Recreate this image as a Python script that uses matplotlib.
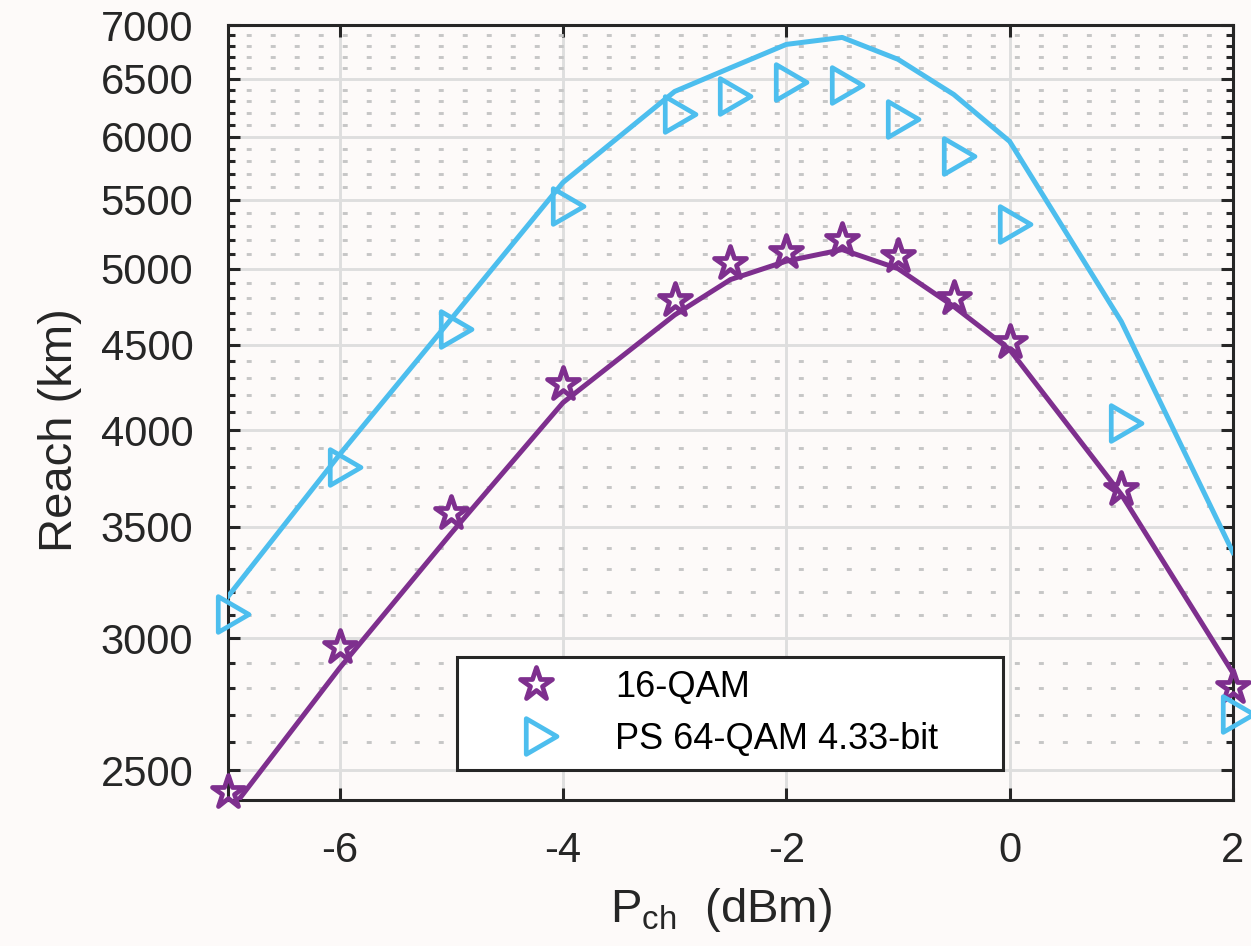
import matplotlib
matplotlib.use("Agg")
import matplotlib.pyplot as plt
from matplotlib.path import Path
from matplotlib.markers import MarkerStyle
from matplotlib.ticker import NullFormatter, NullLocator

# Launch power per channel (dBm)
p_ch = [-7, -6, -5, -4, -3, -2.5, -2, -1.5, -1, -0.5, 0, 1, 2]

# 16-QAM: measured reach (markers) and model curve (line), km
qam16_points = [2425, 2965, 3570, 4261, 4791, 5042, 5119, 5204, 5090, 4804, 4515, 3690, 2804]
qam16_curve = [2355, 2880, 3470, 4155, 4690, 4925, 5052, 5133, 5000, 4745, 4471, 3660, 2860]

# PS 64-QAM 4.33-bit: measured reach (markers) and model curve (line), km
ps64_points = [3101, 3799, 4599, 5448, 6187, 6343, 6466, 6440, 6145, 5838, 5316, 4037, 2701]
ps64_curve = [3179, 3868, 4665, 5632, 6386, 6598, 6815, 6881, 6676, 6359, 5960, 4647, 3378]

series_labels = ["16-QAM", "PS 64-QAM 4.33-bit"]

x_ticks = [-6, -4, -2, 0, 2]
x_tick_labels = ["-6", "-4", "-2", "0", "2"]
y_ticks = [2500, 3000, 3500, 4000, 4500, 5000, 5500, 6000, 6500, 7000]
y_tick_labels = ["2500", "3000", "3500", "4000", "4500", "5000", "5500", "6000", "6500", "7000"]
y_minor_ticks = [v for v in range(2500, 7001, 100) if v % 500]

plt.rcParams["font.family"] = ["Liberation Sans", "DejaVu Sans"]
plt.rcParams["mathtext.fontset"] = "custom"
plt.rcParams["mathtext.rm"] = "Liberation Sans"
plt.rcParams["mathtext.it"] = "Liberation Sans:italic"
plt.rcParams["mathtext.bf"] = "Liberation Sans:bold"

PURPLE = "#7E2F8E"
BLUE = "#4DBEEE"
INK = "#262626"
BG = "#fdfaf9"

fig = plt.figure(figsize=(12.51, 9.46), dpi=100, facecolor=BG)
W, H = 1251, 946
ax = fig.add_axes([228 / W, 1 - 800 / H, (1233 - 228) / W, (800 - 25) / H])
ax.set_facecolor(BG)
ax.set_yscale("log")
ax.set_xlim(-7, 2)
ax.set_ylim(2400, 7000)

# right-pointing triangle with its centroid on the data point
tri_path = Path(
    [(-0.5, 0.871), (1.0, 0.0), (-0.5, -0.871), (-0.5, 0.871)],
    [Path.MOVETO, Path.LINETO, Path.LINETO, Path.CLOSEPOLY],
)
tri_marker = MarkerStyle(tri_path, joinstyle="round")
star_marker = MarkerStyle("*", joinstyle="round")

# model curves
ax.plot(p_ch, qam16_curve, color=PURPLE, lw=3.6, solid_joinstyle="round", zorder=3)
ax.plot(p_ch, ps64_curve, color=BLUE, lw=3.6, solid_joinstyle="round", zorder=3)

# measured points
h16, = ax.plot(p_ch, qam16_points, linestyle="none", marker=star_marker, ms=24.5,
               mfc="none", mec=PURPLE, mew=3.4, clip_on=False, zorder=4)
h64, = ax.plot(p_ch, ps64_points, linestyle="none", marker=tri_marker, ms=29.5,
               mfc="none", mec=BLUE, mew=3.4, clip_on=False, zorder=4)

# ticks
ax.set_xticks(x_ticks, labels=x_tick_labels)
ax.xaxis.set_minor_locator(NullLocator())
ax.set_yticks(y_ticks, labels=y_tick_labels)
ax.set_yticks(y_minor_ticks, minor=True)
ax.yaxis.set_minor_formatter(NullFormatter())

ax.tick_params(which="both", direction="in", top=True, right=True,
               color=INK, labelcolor=INK, width=2.2)
ax.tick_params(which="major", length=8.6)
ax.tick_params(which="minor", length=5.0)
ax.tick_params(axis="x", labelsize=30, pad=22)
ax.tick_params(axis="y", labelsize=30, pad=25)

for sp in ax.spines.values():
    sp.set_linewidth(2.2)
    sp.set_color(INK)

# grid
ax.set_axisbelow(True)
ax.grid(True, which="major", color="#dedede", lw=2.1, ls="-")
ax.yaxis.grid(True, which="minor", color="#c6c6c6", lw=2.1, ls=(1.98, (1.7, 6.53)))

# axis labels
ax.set_xlabel(r"P$_{\mathrm{ch}}$  (dBm)", fontsize=34, color=INK)
ax.xaxis.set_label_coords(0.491, (800 - 886) / 775)
ax.set_ylabel("Reach (km)", fontsize=34, color=INK)
ax.yaxis.label.set_verticalalignment("center")
ax.yaxis.set_label_coords((59.5 - 228) / 1005, (800 - 430) / 775)

# legend
leg = ax.legend([h16, h64], series_labels, loc="upper left",
                bbox_to_anchor=(0.2279, 0.04, 0.5433, 0.1445), mode="expand",
                borderaxespad=0, fontsize=26, handlelength=3.63, handletextpad=0.39,
                borderpad=0.36, labelspacing=0.47, numpoints=1, frameon=True,
                fancybox=False, edgecolor=INK, facecolor="white", framealpha=1)
leg.get_frame().set_linewidth(2.2)
for t in leg.get_texts():
    t.set_color("black")

fig.savefig("out.png", dpi=100, facecolor=BG)
